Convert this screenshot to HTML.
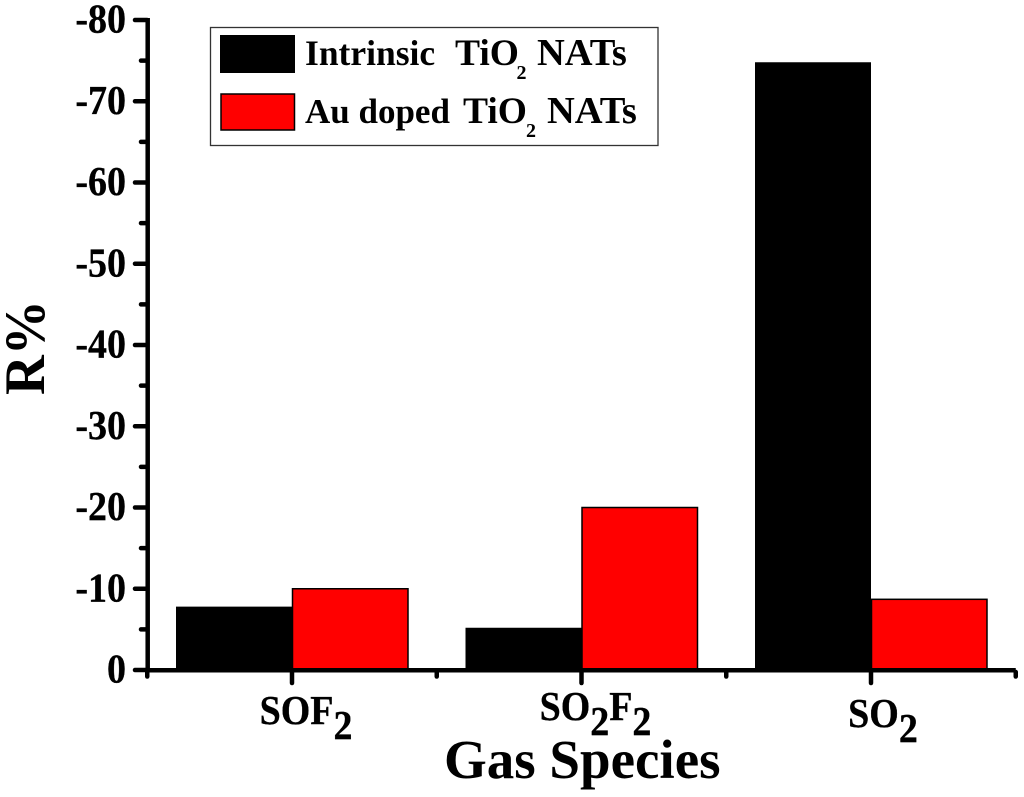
<!DOCTYPE html>
<html lang="en">
<head>
<meta charset="utf-8">
<title>Gas response bar chart</title>
<style>
html,body{margin:0;padding:0;background:#fff;}
svg{display:block;filter:blur(0.35px);}
text{font-family:"Liberation Serif",serif;font-weight:bold;fill:#000;white-space:pre;}
</style>
</head>
<body>
<svg id="chart" width="1024" height="797" viewBox="0 0 1024 797" xmlns="http://www.w3.org/2000/svg">
  <rect x="0" y="0" width="1024" height="797" fill="#fff"/>
  <g id="bars"></g>
  <g id="axes"></g>
  <text transform="translate(44,395) rotate(-90) scale(1,1.03)" font-size="55">R%</text>
  <text x="444" y="778" font-size="55">Gas Species</text>
  <g>
    <rect x="210.5" y="27.5" width="447.5" height="118" fill="#fff" stroke="#333" stroke-width="1.3"/>
    <rect x="220" y="35" width="75" height="38" fill="#000"/>
    <text y="65" font-size="36"><tspan x="305" font-size="35.5">Intrinsic</tspan><tspan x="455" font-size="37.5">TiO</tspan><tspan x="516.5" font-size="20" dy="14">2</tspan><tspan x="537" font-size="38.5" dy="-14">NATs</tspan></text>
    <rect x="221" y="94" width="73.5" height="36" fill="#f00" stroke="#000" stroke-width="1.5"/>
    <text y="123" font-size="36"><tspan x="305" font-size="35">Au doped</tspan><tspan x="463" font-size="37.5">TiO</tspan><tspan x="526" font-size="20" dy="14">2</tspan><tspan x="547" font-size="38.5" dy="-14">NATs</tspan></text>
  </g>
</svg>
<script>
const categories = ['SOF2', 'SO2F2', 'SO2'];
const intrinsicValues = [-7.8, -5.2, -74.8];
const auDopedValues = [-10, -20, -8.7];
const yTickValues = [0, -10, -20, -30, -40, -50, -60, -70, -80];
const yMinorTickValues = [-5, -15, -25, -35, -45, -55, -65, -75];

const NS = 'http://www.w3.org/2000/svg';
const barsLayer = document.getElementById('bars');
const axesLayer = document.getElementById('axes');

function yScale(v) { return 670 + v * 8.125; }
function xScale(i) { return 292 + i * 289.5; }

function make(parent, tag, attrs) {
  const el = document.createElementNS(NS, tag);
  for (const k in attrs) el.setAttribute(k, attrs[k]);
  parent.appendChild(el);
  return el;
}

/* bars */
categories.forEach(function (cat, i) {
  const cx = xScale(i);
  const top1 = yScale(intrinsicValues[i]);
  const b1 = make(barsLayer, 'rect', { x: cx - 116, y: top1, width: 116, height: 670 - top1, fill: '#000' });
  
  
  const top2 = yScale(auDopedValues[i]);
  const b2 = make(barsLayer, 'rect', { x: cx + 0.5, y: top2, width: 115.5, height: 670 - top2, fill: '#f00', stroke: '#000', 'stroke-width': 1.5 });
  
  
});

/* y axis */
const ySpine = make(axesLayer, 'line', { x1: 147.7, y1: 18, x2: 147.7, y2: 672, stroke: '#000', 'stroke-width': 4.5 });



yTickValues.forEach(function (v) {
  const y = yScale(v);
  const t = make(axesLayer, 'line', { x1: 135, y1: y, x2: 147, y2: y, stroke: '#000', 'stroke-width': 4.5, 'stroke-linecap': 'round' });
  
  
  const l = make(axesLayer, 'text', { transform: 'translate(126,' + (y + 12.7) + ') scale(1,1.09)', 'font-size': 38, 'text-anchor': 'end', stroke: '#000', 'stroke-width': 0.3 });
  l.textContent = String(v);
  
  
});

yMinorTickValues.forEach(function (v) {
  const y = yScale(v);
  const t = make(axesLayer, 'line', { x1: 141, y1: y, x2: 147, y2: y, stroke: '#000', 'stroke-width': 4.5, 'stroke-linecap': 'round' });
  
  
});

/* x axis */
const xSpine = make(axesLayer, 'line', { x1: 147.5, y1: 670.3, x2: xScale(categories.length - 0.5), y2: 670.3, stroke: '#000', 'stroke-width': 4.5 });



const labelDrop = { 0: 0, 1: -4, 2: 3 };
const labelShift = { 0: 14, 1: 14, 2: 12 };

categories.forEach(function (cat, i) {
  const cx = xScale(i);
  const t = make(axesLayer, 'line', { x1: cx, y1: 672, x2: cx, y2: 683, stroke: '#000', 'stroke-width': 4.5, 'stroke-linecap': 'round' });
  
  
  const mx = xScale(i - 0.5);
  const m = make(axesLayer, 'line', { x1: mx, y1: 672, x2: mx, y2: 676.5, stroke: '#000', 'stroke-width': 4.5, 'stroke-linecap': 'round' });
  
  

  const label = make(axesLayer, 'text', { transform: 'translate(' + (cx + labelShift[i]) + ',' + (724 + labelDrop[i]) + ') scale(1,1.08)', 'font-size': 38, 'text-anchor': 'middle', stroke: '#000', 'stroke-width': 0.3 });
  
  
  let lowered = false;
  cat.split(/(\d)/).filter(Boolean).forEach(function (part) {
    const isDigit = /\d/.test(part);
    const span = make(label, 'tspan', {});
    if (isDigit && !lowered) { span.setAttribute('dy', 14); lowered = true; }
    if (!isDigit && lowered) { span.setAttribute('dy', -14); lowered = false; }
    span.textContent = part;
  });
});

const lastMinor = xScale(categories.length - 0.5);
const endTick = make(axesLayer, 'line', { x1: lastMinor, y1: 672, x2: lastMinor, y2: 676.5, stroke: '#000', 'stroke-width': 4.5, 'stroke-linecap': 'round' });


</script>
</body>
</html>
